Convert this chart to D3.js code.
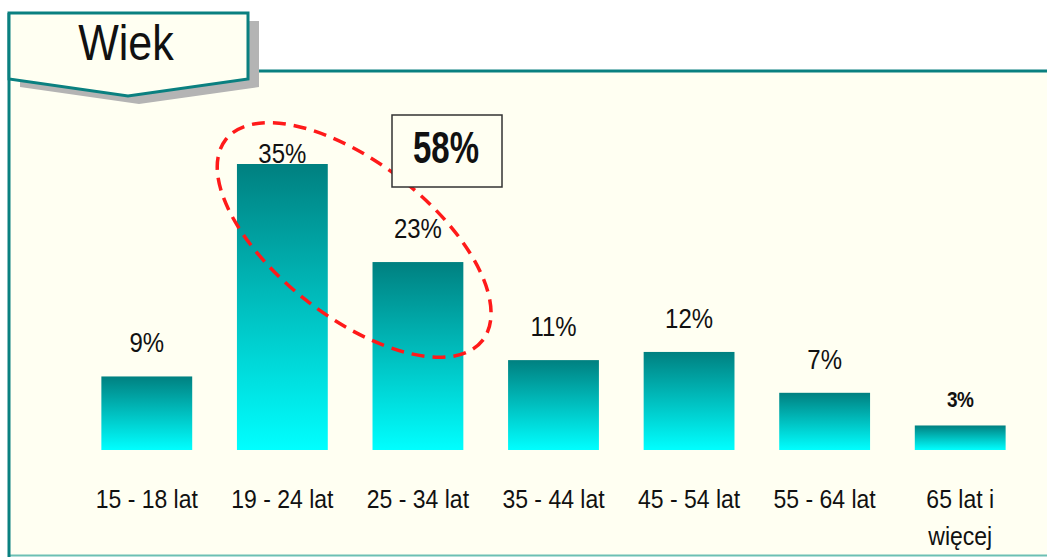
<!DOCTYPE html>
<html>
<head>
<meta charset="utf-8">
<script src="https://cdn.jsdelivr.net/npm/d3@7"></script>
<style>
  body { margin: 0; background: #fff; }
  text { font-family: "Liberation Sans", Arial, sans-serif; fill: #111; }
</style>
</head>
<body>
<svg id="chart" width="1047" height="557"></svg>
<script>
var categories = [['15 - 18 lat'], ['19 - 24 lat'], ['25 - 34 lat'], ['35 - 44 lat'],
                  ['45 - 54 lat'], ['55 - 64 lat'], ['65 lat i', 'więcej']]
var values = [9, 35, 23, 11, 12, 7, 3]
var valueLabels = ['9%', '35%', '23%', '11%', '12%', '7%', '3%']
var titleText = 'Wiek'
var highlightText = '58%'
var highlighted = [1, 2]

var svg = d3.select('#chart')

// frame
svg.append('rect')
   .attr('x', 9).attr('y', 71).attr('width', 1040).attr('height', 484)
   .attr('fill', '#fffff2')
svg.append('line')
   .attr('x1', 250).attr('x2', 1047).attr('y1', 71).attr('y2', 71)
   .attr('stroke', '#0a8080').attr('stroke-width', 3)
svg.append('line')
   .attr('x1', 9).attr('x2', 1047).attr('y1', 555.5).attr('y2', 555.5)
   .attr('stroke', '#6cc0b4').attr('stroke-width', 2)
svg.append('line')
   .attr('x1', 9).attr('x2', 9).attr('y1', 13).attr('y2', 557)
   .attr('stroke', '#0a8080').attr('stroke-width', 3)

// title tab with shadow
var tab = function (dx, dy) {
  return [[9 + dx, 13 + dy], [248 + dx, 13 + dy], [248 + dx, 79 + dy],
          [128 + dx, 96 + dy], [9 + dx, 79 + dy]]
}
svg.append('polygon')
   .attr('points', tab(11, 8).join(' '))
   .attr('fill', '#b4b4b4')
svg.append('polygon')
   .attr('points', tab(0, 0).join(' '))
   .attr('fill', '#fffff2')
   .attr('stroke', '#0a8080').attr('stroke-width', 3)
svg.append('text')
   .attr('transform', 'translate(126,60) scale(1,1.14)')
   .attr('text-anchor', 'middle')
   .style('font-size', '43px')
   .text(titleText)

// bars
var defs = svg.append('defs')
var grad = defs.append('linearGradient')
               .attr('id', 'barfill')
               .attr('x1', 0).attr('x2', 0).attr('y1', 0).attr('y2', 1)
grad.append('stop').attr('offset', '0%').attr('stop-color', '#008080')
grad.append('stop').attr('offset', '100%').attr('stop-color', '#00ffff')

var x = d3.scaleBand()
          .domain(d3.range(values.length))
          .range([79, 1028])
          .paddingInner(0.33)
          .paddingOuter(0.165)
var y = d3.scaleLinear().domain([0, 35]).range([450, 164])

svg.selectAll('.bar')
   .data(values)
   .enter().append('rect')
   .attr('class', 'bar')
   .attr('x', function (d, i) { return x(i) })
   .attr('y', function (d) { return y(d) })
   .attr('width', x.bandwidth())
   .attr('height', function (d) { return y(0) - y(d) })
   .attr('fill', 'url(#barfill)')

// value labels (the last one is bold and smaller in the original)
var isLast = function (i) { return i === values.length - 1 }
svg.selectAll('.val')
   .data(values)
   .enter().append('text')
   .attr('class', 'val')
   .attr('text-anchor', 'middle')
   .attr('transform', function (d, i) {
     var ly = Math.max(y(d) - (isLast(i) ? 18 : 24), 163)
     return 'translate(' + (x(i) + x.bandwidth() / 2) + ',' + ly + ') scale(1,1.12)'
   })
   .style('font-size', function (d, i) { return isLast(i) ? '19px' : '24px' })
   .style('font-weight', function (d, i) { return isLast(i) ? 'bold' : 'normal' })
   .style('letter-spacing', function (d, i) { return isLast(i) ? '-0.5px' : '0' })
   .text(function (d, i) { return valueLabels[i] })

// category labels
var cat = svg.selectAll('.cat')
   .data(categories)
   .enter().append('text')
   .attr('class', 'cat')
   .attr('text-anchor', 'middle')
   .style('font-size', '23px')
   .attr('transform', function (d, i) {
     return 'translate(' + (x(i) + x.bandwidth() / 2) + ',508) scale(1,1.1)'
   })
cat.selectAll('tspan')
   .data(function (d) { return d })
   .enter().append('tspan')
   .attr('x', 0)
   .attr('dy', function (d, j) { return j ? 34 : 0 })
   .text(function (d) { return d })

// highlight ellipse around the two bars
var hx = (x(highlighted[0]) + x(highlighted[1]) + x.bandwidth()) / 2
svg.append('ellipse')
   .attr('transform', 'translate(' + (hx + 4) + ',240) rotate(38)')
   .attr('rx', 163).attr('ry', 77)
   .attr('fill', 'none')
   .attr('stroke', '#ff1a1a').attr('stroke-width', 3.5)
   .attr('stroke-dasharray', '13,8')

svg.append('rect')
   .attr('x', 392).attr('y', 115).attr('width', 110).attr('height', 72)
   .attr('fill', '#fffff2')
   .attr('stroke', '#333').attr('stroke-width', 1.5)
svg.append('text')
   .attr('transform', 'translate(446,163) scale(1,1.32)')
   .attr('text-anchor', 'middle')
   .style('font-size', '33px').style('font-weight', 'bold')
   .text(highlightText)
</script>
</body>
</html>
